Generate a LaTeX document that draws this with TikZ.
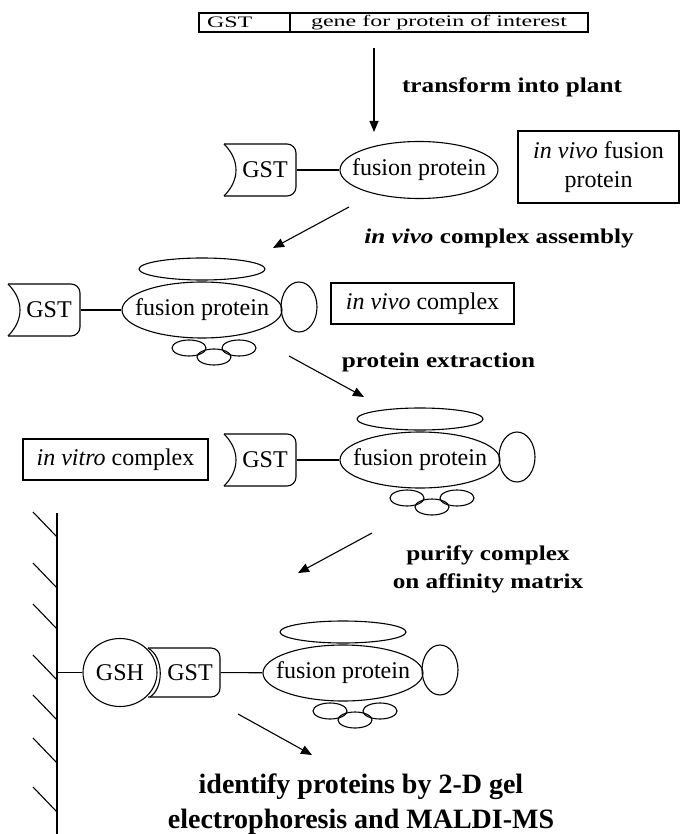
\documentclass[tikz,border=0pt]{standalone}
\usepackage{fontspec}
\setmainfont{Liberation Serif}
\newfontfamily\widefont[FakeStretch=1.5]{Liberation Serif}
\newfontfamily\lblfont[FakeStretch=1.2]{Liberation Serif}
\usetikzlibrary{shapes.geometric, arrows.meta}

\begin{document}
\begin{tikzpicture}[
        x=1pt, y=-1pt, % координаты в пикселях, ось y вниз
        line width=1.1pt,
        txt/.style={font=\fontsize{24}{29}\selectfont, inner sep=0pt}, % обычный текст
        box/.style={draw, rectangle, align=center, inner sep=0pt, font=\fontsize{24}{29}\selectfont},
        gene/.style={draw, rectangle, inner sep=0pt, minimum height=19pt, font=\widefont\fontsize{16}{19}\selectfont},
        blob/.style={draw, ellipse, inner sep=0pt},
        fp/.style={blob, inner xsep=-30pt, minimum width=160pt, minimum height=56pt, font=\fontsize{24}{29}\selectfont},
        lbl/.style={align=center, font=\lblfont\bfseries\fontsize{21}{28}\selectfont}, % подписи шагов
        flow/.style={-{Triangle[length=11pt, width=9pt]}},
        cplx/.pic={ % белок с партнёрами
                \node[fp] (-fp) at (0,0) {fusion protein};
                \node[blob, minimum width=126pt, minimum height=22pt] (-top) at (0,-41) {};
                \node[blob, minimum width=36pt, minimum height=50pt] (-side) at (97,-3) {};
                \node[blob, minimum width=34pt, minimum height=16pt] (-s1) at (-13,38) {};
                \node[blob, minimum width=34pt, minimum height=16pt] (-s2) at (37,38) {};
                \node[blob, minimum width=34pt, minimum height=16pt] (-s3) at (12,47) {};
            },
        gst/.pic={ % метка GST
                \node[txt, minimum width=62pt, minimum height=52pt] (-t) at (5,0) {GST};
                \draw[rounded corners=9pt] (-36,-26) -- (36,-26) -- (36,26) -- (-36,26);
                \draw (-36,-26) .. controls (-20,-10) and (-20,10) .. (-36,26);
            },
    ]
    \useasboundingbox (0,0) rectangle (680,834);

    % ген
    \node[gene, inner xsep=8pt, text width=75pt, align=left] (gstgene) at (244.5,22.5) {GST};
    \node[gene, minimum width=298pt] (poi) at (439,22.5) {gene for protein of interest};

    \coordinate (a1s) at (374,48);
    \coordinate (a1e) at (374,132);
    \draw[flow] (a1s) -- (a1e);
    \node[lbl] (l1) at (512,87) {transform into plant};

    % белок in vivo
    \pic (g2) at (260,170) {gst};
    \node[fp, minimum width=158pt, minimum height=57pt] (f2) at (419,170) {fusion protein};
    \draw (g2-t) -- (f2);
    \node[box, minimum width=161pt, minimum height=72pt] (b2) at (598.5,167) {\textit{in vivo} fusion\\protein};

    \coordinate (a2s) at (349,207);
    \coordinate (a2e) at (273,248);
    \draw[flow] (a2s) -- (a2e);
    \node[lbl] (l2) at (499,238) {\textit{in vivo} complex assembly};

    % комплекс in vivo
    \pic (g3) at (44,310) {gst};
    \pic (c3) at (202,310) {cplx};
    \draw (g3-t) -- (c3-fp);
    \node[box, minimum width=183pt, minimum height=41pt] (b3) at (422.5,303.5) {\textit{in vivo} complex};

    \coordinate (a3s) at (289,356);
    \coordinate (a3e) at (364,397);
    \draw[flow] (a3s) -- (a3e);
    \node[lbl] (l3) at (438.5,362) {protein extraction};

    % комплекс in vitro
    \node[box, minimum width=185pt, minimum height=41pt] (b4) at (115.5,459.5) {\textit{in vitro} complex};
    \pic (g4) at (260,460) {gst};
    \pic (c4) at (420,460) {cplx};
    \draw (g4-t) -- (c4-fp);

    \coordinate (a4s) at (372,533);
    \coordinate (a4e) at (298,573);
    \draw[flow] (a4s) -- (a4e);
    \node[lbl] (l4) at (488,569) {purify complex\\on affinity matrix};

    % матрица
    \draw (57,513) -- (57,834);
    \foreach \y in {512,563,604,655,695,738,787}
        \draw (33,\y) -- (57,\y+25);
    \coordinate (mtx) at (57,672.5);
    \node[blob, minimum width=74pt, minimum height=68pt, font=\fontsize{24}{29}\selectfont] (gsh) at (120,672.5) {GSH};
    \draw (mtx) -- (gsh);
    \node[txt, minimum width=60pt, minimum height=49pt] (g5) at (190,672.5) {GST};
    \draw[rounded corners=9pt] (148,648) -- (220,648) -- (220,697) -- (148,697);
    \draw (148,648) .. controls (164,657) and (164,688) .. (150,697);
    \pic (c5) at (343,673) {cplx};
    \draw (g5) -- (c5-fp);

    \coordinate (a5s) at (238,714);
    \coordinate (a5e) at (312,755);
    \draw[flow] (a5s) -- (a5e);
    \node[align=center, font=\bfseries\fontsize{28}{35}\selectfont] (l5) at (361,804) {identify proteins by 2-D gel\\electrophoresis and MALDI-MS};
\end{tikzpicture}
\end{document}
